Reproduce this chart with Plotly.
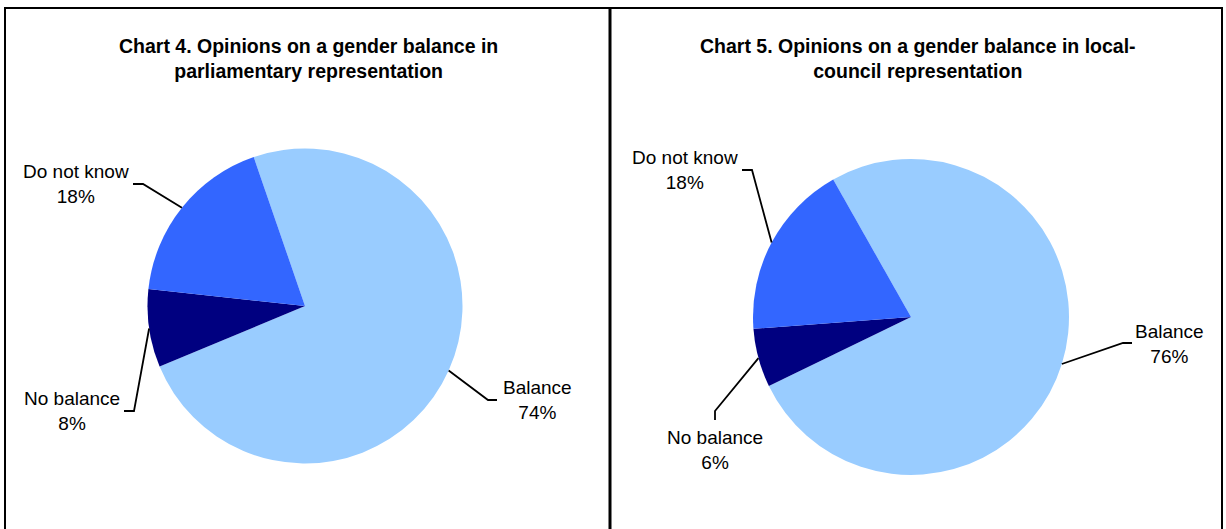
import math
import plotly.graph_objects as go

# Survey results (percent of respondents)
categories = ["Balance", "No balance", "Do not know"]
parliament = [74, 8, 18]
local_council = [76, 6, 18]
slice_colors = ["#99CCFF", "#000080", "#3366FF"]

titles = [
    "<b>Chart 4. Opinions on a gender balance in<br>parliamentary representation</b>",
    "<b>Chart 5. Opinions on a gender balance in local-<br>council representation</b>",
]

W, H = 1226, 529
FONT = "Liberation Sans, Arial, Helvetica, sans-serif"


def px(x):
    return x / W


def py(y):
    return 1 - y / H


# Layout of each panel: pie centre/radius, start angle, title centre,
# and label placement (label centre, elbow point, stub end) per category
panels = [
    dict(
        values=parliament, title=titles[0], box=(5, 609.5),
        cx=305, cy=306, r=157.5, rotation=-19, title_xy=(308, 59),
        labels={
            "Balance": dict(text=(537, 400), elbow=(488, 400), stub=(497, 400)),
            "No balance": dict(text=(72, 411), elbow=(134, 411), stub=(124, 411)),
            "Do not know": dict(text=(76, 184), elbow=(143, 184), stub=(133, 184)),
        },
    ),
    dict(
        values=local_council, title=titles[1], box=(610.5, 1222),
        cx=911, cy=317, r=158, rotation=-29.5, title_xy=(918, 59),
        labels={
            "Balance": dict(text=(1169, 344), elbow=(1123, 343), stub=(1132, 343)),
            "No balance": dict(text=(715, 450), elbow=(715, 411), stub=(715, 420)),
            "Do not know": dict(text=(685, 170), elbow=(752, 170), stub=(742, 170)),
        },
    ),
]

fig = go.Figure()
shapes = []
annotations = []

for p in panels:
    cx, cy, r = p["cx"], p["cy"], p["r"]
    fig.add_trace(go.Pie(
        labels=categories,
        values=p["values"],
        sort=False,
        direction="clockwise",
        rotation=p["rotation"],
        marker=dict(colors=slice_colors, line=dict(width=0)),
        textinfo="none",
        hoverinfo="label+percent",
        showlegend=False,
        domain=dict(x=[px(cx - r), px(cx + r)], y=[py(cy + r), py(cy - r)]),
    ))

    # panel frame
    x0, x1 = p["box"]
    shapes.append(dict(
        type="rect", xref="paper", yref="paper",
        x0=px(x0), x1=px(x1), y0=py(560), y1=py(8),
        line=dict(color="black", width=2), fillcolor="rgba(0,0,0,0)",
    ))

    annotations.append(dict(
        text=p["title"], xref="paper", yref="paper",
        x=px(p["title_xy"][0]), y=py(p["title_xy"][1]),
        xanchor="center", yanchor="middle", showarrow=False, align="center",
        font=dict(family=FONT, size=19.5, color="black"),
    ))

    # slice labels with leader lines from the middle of each slice's arc
    total = sum(p["values"])
    angle = p["rotation"]
    for cat, val in zip(categories, p["values"]):
        sweep = 360 * val / total
        mid = math.radians(angle + sweep / 2)
        angle += sweep
        ax_, ay_ = cx + r * math.sin(mid), cy - r * math.cos(mid)
        lab = p["labels"][cat]
        ex, ey = lab["elbow"]
        sx, sy = lab["stub"]
        shapes.append(dict(
            type="path", xref="paper", yref="paper",
            path=f"M {px(ax_)} {py(ay_)} L {px(ex)} {py(ey)} L {px(sx)} {py(sy)}",
            line=dict(color="black", width=1.8),
        ))
        tx, ty = lab["text"]
        annotations.append(dict(
            text=f"{cat}<br>{val}%", xref="paper", yref="paper",
            x=px(tx), y=py(ty), xanchor="center", yanchor="middle",
            showarrow=False, align="center",
            font=dict(family=FONT, size=19, color="black"),
        ))

fig.update_layout(
    width=W, height=H,
    margin=dict(l=0, r=0, t=0, b=0),
    paper_bgcolor="white", plot_bgcolor="white",
    shapes=shapes, annotations=annotations,
)

fig.write_html("out.html")
